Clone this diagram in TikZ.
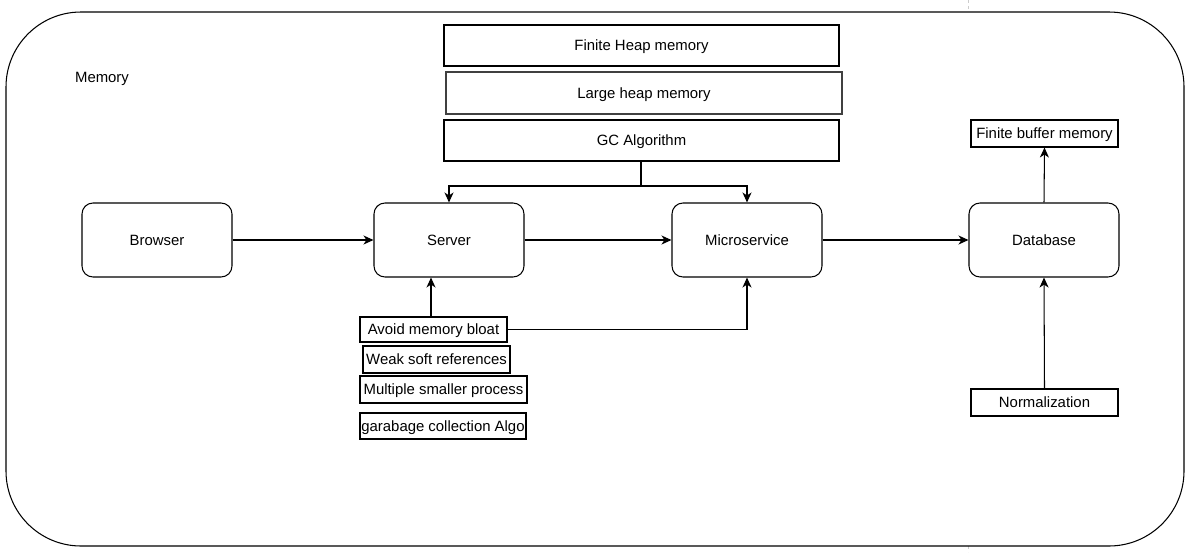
\documentclass[tikz,border=0pt]{standalone}
\usepackage{fontspec}
\setmainfont{Liberation Sans}
\usetikzlibrary{arrows.meta}
\begin{document}
\begin{tikzpicture}[x=1pt,y=-1pt,
  every node/.style={font=\fontsize{14.9}{16}\selectfont, inner sep=0pt, text=black, text height=10.7pt, text depth=0pt},
  rbox/.style={draw, line width=1.05pt, rounded corners=11pt, minimum width=150pt, minimum height=74pt},
  sbox/.style={draw, line width=1.05pt, minimum height=#1},
  sbox/.default=27pt,
  conn/.style={line width=1.05pt, -{Stealth[length=10pt,width=9pt,inset=3pt]}},
  plain/.style={line width=1.05pt}]
\useasboundingbox (0,0) rectangle (1197,552);
% page guide
\draw[gray!40, dashed, line width=0.8pt] (968,0) -- (968,12);
\draw[gray!40, dashed, line width=0.8pt] (968,546) -- (968,552);
% outer container
\draw[line width=1.05pt, rounded corners=75pt] (6,12) rectangle (1184,546);
\node (mem) at (102,77) {Memory};
% top boxes
\node[sbox=41pt, minimum width=395pt] (fhm) at (641.5,45.5) {Finite Heap memory};
\node[sbox=42pt, minimum width=396pt, draw=black!75] (lhm) at (644,93) {Large heap memory};
\node[sbox=41pt, minimum width=395pt] (gc) at (641.5,140.5) {GC Algorithm};
% main nodes
\node[rbox] (browser) at (157,240) {Browser};
\node[rbox] (server) at (449,240) {Server};
\node[rbox] (micro) at (747,240) {Microservice};
\node[rbox] (db) at (1044,240) {Database};
% lower left boxes
\node[sbox=25pt, minimum width=147pt] (avoid) at (433.5,329.5) {Avoid memory bloat};
\node[sbox=27pt, minimum width=147pt] (weak) at (436.5,359.5) {Weak soft references};
\node[sbox=27pt, minimum width=167pt] (multi) at (443.5,389.5) {Multiple smaller process};
\node[sbox=26pt, minimum width=166pt] (garb) at (443,426) {garabage collection Algo};
% right boxes
\node[sbox=27pt, minimum width=147pt] (fbm) at (1044.5,133.5) {Finite buffer memory};
\node[sbox=27pt, minimum width=147pt] (norm) at (1044.5,402.5) {Normalization};
% connectors
\draw[conn] (browser) -- (server);
\draw[conn] (server) -- (micro);
\draw[conn] (micro) -- (db);
\coordinate (split) at (641,186);
\draw[plain] (gc.south -| split) -- (split);
\draw[conn] (split) -| (server.north);
\draw[conn] (split) -| (micro.north);
\draw[conn] (avoid.north -| 431,0) -- (server.south -| 431,0);
\draw[conn] (avoid.east) -| (micro.south);
\draw[conn] (db.north) -- (fbm.south);
\draw[conn] (norm.north) -- (db.south);
\end{tikzpicture}
\end{document}
